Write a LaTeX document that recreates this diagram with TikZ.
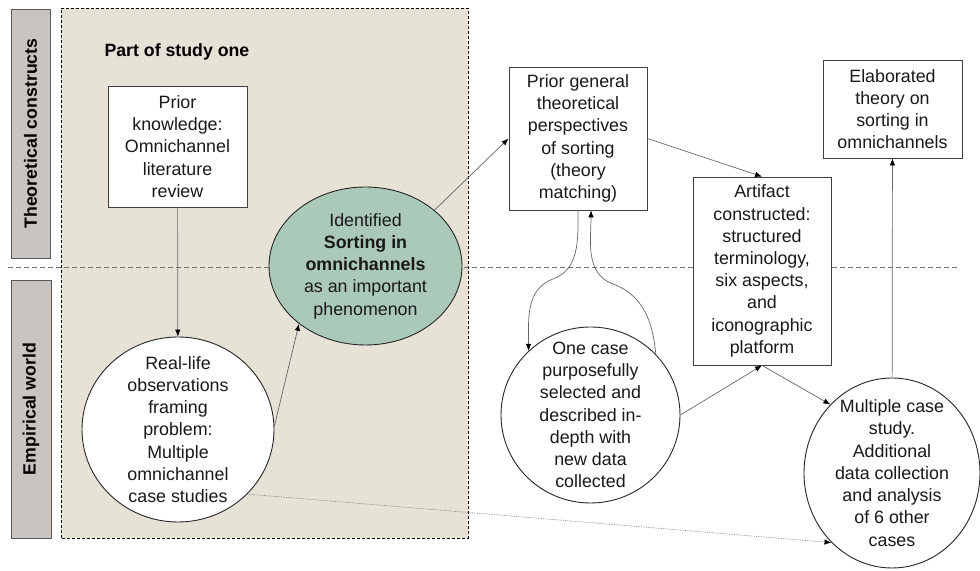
\documentclass[tikz,border=0pt]{standalone}
\usepackage{fontspec}
\setmainfont{Liberation Sans}
\usetikzlibrary{shapes.geometric,arrows.meta}
\definecolor{studybg}{HTML}{E6E2D6}
\definecolor{idgreen}{HTML}{ABC9B9}
\definecolor{bargray}{HTML}{C9C4BF}
\begin{document}
\begin{tikzpicture}[x=1bp, y=1bp,
    txt/.style={align=center, text=black!90, inner sep=0pt,
      font=\fontsize{17.9}{22.3}\selectfont},
    box/.style={txt, rectangle, draw=black!75, line width=0.8bp, fill=white},
    blob/.style={ellipse, draw=black!85, line width=0.9bp, fill=white, inner sep=0pt},
    sidebar/.style={rectangle, draw=black!65, line width=0.9bp, fill=bargray,
      inner sep=0pt, rotate=90, font=\bfseries\fontsize{17.8}{22.3}\selectfont}]
  \useasboundingbox (0,0) rectangle (980,571);

  % study one area and the split between the two worlds
  \fill[studybg] (61,33) rectangle (468,563);
  \draw[black!55, line width=0.7bp, dash pattern=on 5bp off 3bp] (8,304) -- (958,304);
  \draw[line width=0.9bp, dash pattern=on 3bp off 2bp] (61,33) rectangle (468,563);
  \node[anchor=base west, font=\bfseries\fontsize{17.8}{22.3}\selectfont] (part) at (101,514) {Part of study one};

  \node[sidebar, minimum width=249bp, minimum height=39bp] (theo) at (30.5,437.5) {Theoretical constructs};
  \node[sidebar, minimum width=258bp, minimum height=40bp] (emp) at (31,162) {Empirical world};

  \begin{scope}[every node/.style={box}]
    \node[minimum width=139bp, minimum height=121bp] (know) at (177.5,424.5)
      {Prior\\knowledge:\\Omnichannel\\literature\\review};
    \node[minimum width=138bp, minimum height=143bp] (gen) at (578,432.5)
      {Prior general\\theoretical\\perspectives\\of sorting\\(theory\\matching)};
    \node[minimum width=139bp, minimum height=98bp] (elab) at (892.5,462)
      {Elaborated\\theory on\\sorting in\\omnichannels};
    \node[minimum width=138bp, minimum height=188bp] (art) at (762,300)
      {Artifact\\constructed:\\structured\\terminology,\\six aspects,\\and\\iconographic\\platform};
  \end{scope}

  \begin{scope}[every node/.style={blob}]
    \node[fill=idgreen, minimum width=193bp, minimum height=158bp,
      label={[txt]center:Identified\\\textbf{Sorting in}\\\textbf{omnichannels}\\as an important\\phenomenon}]
      (ident) at (365.5,305) {};
    \node[minimum width=192bp, minimum height=185bp,
      label={[txt]center:Real-life\\observations\\framing\\problem:\\Multiple\\omnichannel\\case studies}]
      (real) at (178,141.5) {};
    \node[minimum width=179bp, minimum height=176bp,
      label={[txt]center:One case\\purposefully\\selected and\\described in-\\depth with\\new data\\collected}]
      (one) at (590.5,156) {};
    \node[minimum width=176bp, minimum height=190bp,
      label={[txt]center:Multiple case\\study.\\Additional\\data collection\\and analysis\\of 6 other\\cases}]
      (multi) at (892,98) {};
  \end{scope}

  \coordinate (kinkL) at (553,292);
  \coordinate (kinkR) at (613,287);

  \begin{scope}[->, >={Latex[length=7bp,width=5.5bp,color=black]}, draw=black!60, line width=0.7bp]
    \draw (know) -- (real);
    \draw (real.2) -- (ident.221);
    \draw (ident.39) -- (gen.west);
    \draw (gen.east) -- (art.north);
    \draw (gen.south) to[out=-90, in=20] (kinkL) to[out=200, in=90] (one.134);
    \draw (one.43) to[out=95, in=-20] (kinkR) to[out=160, in=-90] ([xshift=13bp]gen.south);
    \draw (one.east) -- (art.south);
    \draw (art.south) -- (multi.132);
    \draw (multi) -- (elab);
    \draw[densely dotted, black!50] (real.-43) -- (multi.229);
  \end{scope}
\end{tikzpicture}
\end{document}
